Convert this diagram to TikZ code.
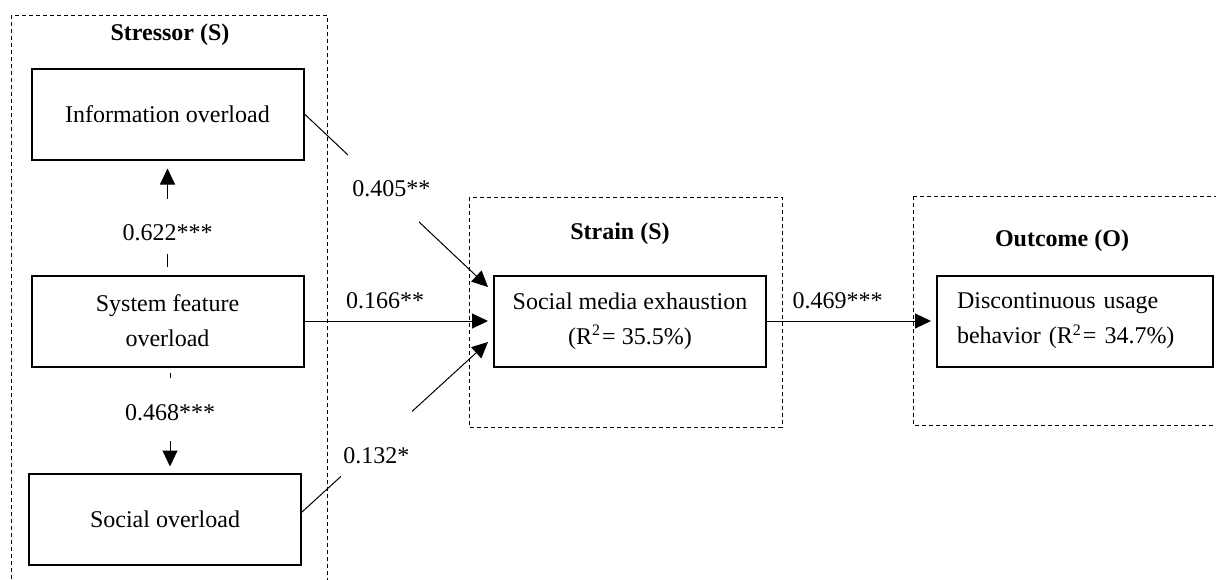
\documentclass[tikz,border=0pt]{standalone}
\usepackage{fontspec}
\setmainfont{Liberation Serif}
\usetikzlibrary{arrows.meta,positioning}
\begin{document}
\begin{tikzpicture}[x=0.5pt,y=-0.5pt,
  font=\fontsize{12pt}{17.5pt}\selectfont,
  var/.style={draw, line width=1pt, minimum width=136pt, minimum height=45.5pt,
    align=center, inner sep=0pt},
  group/.style={draw, dash pattern=on 2pt off 1.5pt, line width=0.5pt},
  title/.style={font=\fontsize{12pt}{14pt}\selectfont\bfseries},
  path/.style={line width=0.5pt, -{Triangle[length=8pt,width=7.5pt]}},
  gap/.style={fill=white, inner sep=0pt},
  coef/.style={inner sep=1pt}
]
\useasboundingbox (0,0) rectangle (1216,579);

% dashed group frames (two of them run off the page)
\begin{scope}
  \clip (0,0) rectangle (1216,579);
  \draw[group] (11,15) rectangle (327,620);
  \draw[group] (469,197) rectangle (782,427);
  \draw[group] (913,196) rectangle (1260,425);
\end{scope}

% group titles
\node[title] (tS) at (170,35) {Stressor (S)};
\node[title] (tStr) at (620,234) {Strain (S)};
\node[title] (tO) at (1062,241) {Outcome (O)};

% constructs
\node[var] (io) at (167.5,114) {Information overload};
\node[var] (sf) at (167.5,321) {System feature\\overload};
\node[var] (so) at (165,519) {Social overload};
\node[var] (sme) at (630,321) {Social media exhaustion\\(R\textsuperscript{2}\kern0.5pt= 35.5\%)};
\node[var, align=left, text width=118pt, inner xsep=10pt] (dub) at (1075,321)
  {Discontinuous usage\\behavior (R\textsuperscript{2}\kern0.5pt= 34.7\%)};

% paths inside the stressor group
\draw[path, shorten <=4pt, shorten >=4pt] (sf.north) --
  node[gap, pos=0.42, minimum width=40pt, minimum height=27.5pt,
       label={[coef,yshift=-3.25pt]center:0.622***}] {} (io.south);
\draw[path, shorten <=2.5pt, shorten >=3pt] ([xshift=1.25pt]sf.south) --
  node[gap, pos=0.40, minimum width=40pt, minimum height=31.5pt,
       label={[coef,yshift=-1.75pt]center:0.468***}] {} ([xshift=2.5pt]so.north);

% stressors to strain
\draw[path] (io.east) --
  node[gap, pos=0.43, minimum width=35.5pt, minimum height=35pt,
       label={[coef,xshift=4pt]center:0.405**}] {} ([xshift=-2.5pt,yshift=17pt]sme.west);
\draw[path] (sf.east) -- node[coef, pos=0.44, above=5pt] {0.166**} ([xshift=-2.5pt]sme.west);
\draw[path] ([yshift=3.5pt]so.east) --
  node[gap, pos=0.40, minimum width=35.5pt, minimum height=33.5pt,
       label={[coef,yshift=-5.75pt]center:0.132*}] {} ([xshift=-2.5pt,yshift=-10.5pt]sme.west);

% strain to outcome
\draw[path] (sme.east) -- node[coef, pos=0.43, above=5pt] {0.469***} ([xshift=-2.5pt]dub.west);
\end{tikzpicture}
\end{document}
